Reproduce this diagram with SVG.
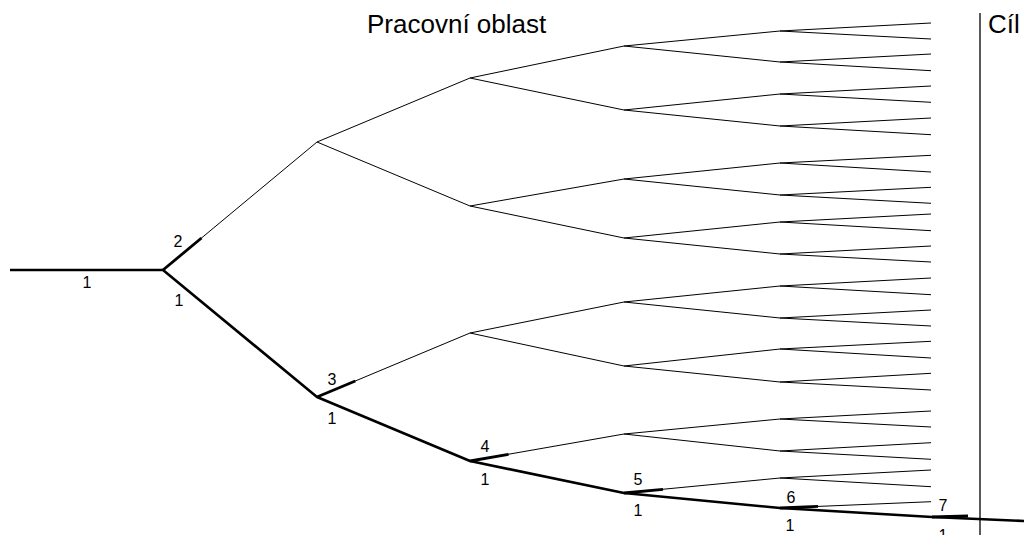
<svg xmlns="http://www.w3.org/2000/svg" width="1024" height="535" viewBox="0 0 1024 535">
<style>
.thin{fill:none;stroke:#000;stroke-width:1}
.thick{fill:none;stroke:#000;stroke-width:2.6;stroke-linejoin:round}
.stub{fill:none;stroke:#000;stroke-width:2.8;stroke-linecap:butt}
.lbl{font-family:"Liberation Sans",Arial,sans-serif;font-size:16px;fill:#000;text-anchor:middle}
.ttl{font-family:"Liberation Sans",Arial,sans-serif;font-size:26px;fill:#000}
</style>
<rect width="1024" height="535" fill="#fff"/>
<g id="connectors">
<!-- upper subtree from root node -->
<path class="thin" d="M163,270 L317,142"/>
<path class="thin" d="M317,142 L470,78 M317,142 L470,206"/>
<path class="thin" d="M470,78 L624,46 M470,78 L624,110 M470,206 L624,179 M470,206 L624,238"/>
<path class="thin" d="M624,46 L780,31 M624,46 L780,62 M624,110 L780,94 M624,110 L780,126 M624,179 L780,163 M624,179 L780,195 M624,238 L780,222 M624,238 L780,254"/>
<path class="thin" d="M780,31 L931,23 M780,31 L931,39 M780,62 L931,54 M780,62 L931,70.7 M780,94 L931,86 M780,94 L931,102.3 M780,126 L931,118 M780,126 L931,134.7 M780,163 L931,155.3 M780,163 L931,172 M780,195 L931,187.3 M780,195 L931,203.3 M780,222 L931,214 M780,222 L931,230.7 M780,254 L931,246 M780,254 L931,262"/>
<!-- subtree from node at 317,397 -->
<path class="thin" d="M317,397 L470,333"/>
<path class="thin" d="M470,333 L624,302 M470,333 L624,366"/>
<path class="thin" d="M624,302 L780,286 M624,302 L780,318 M624,366 L780,349 M624,366 L780,382"/>
<path class="thin" d="M780,286 L931,278 M780,286 L931,294.7 M780,318 L931,310 M780,318 L931,326 M780,349 L931,341.3 M780,349 L931,358 M780,382 L931,373.3 M780,382 L931,390"/>
<!-- subtree from node at 470,461 -->
<path class="thin" d="M470,461 L624,434"/>
<path class="thin" d="M624,434 L780,419 M624,434 L780,451"/>
<path class="thin" d="M780,419 L931,411 M780,419 L931,427 M780,451 L931,442.7 M780,451 L931,459.3"/>
<!-- subtree from node at 624,493 -->
<path class="thin" d="M624,493 L780,478"/>
<path class="thin" d="M780,478 L931,470 M780,478 L931,486.7"/>
<!-- branch from node at 780,508 -->
<path class="thin" d="M780,508 L931,501.7"/>
<!-- thick stubs -->
<path class="stub" d="M163,270 L201.5,238"/>
<path class="stub" d="M317,397 L355.3,381"/>
<path class="stub" d="M470,461 L508.5,454.3"/>
<path class="stub" d="M624,493 L663,489.3"/>
<path class="stub" d="M780,508 L818,506.4"/>
<path class="stub" d="M932,517 L968,516"/>
<!-- main path -->
<path class="thick" d="M10,270 L163,270 L317,397 L470,461 L624,493 L780,508 L932,517 L1024,521"/>
<!-- goal line -->
<path class="thin" d="M980,13 L980,535" style="stroke-width:1.3"/>
</g>
<g id="labels">
<text class="lbl" x="87" y="288">1</text>
<text class="lbl" x="178" y="247">2</text>
<text class="lbl" x="179" y="306">1</text>
<text class="lbl" x="332" y="385">3</text>
<text class="lbl" x="332" y="424">1</text>
<text class="lbl" x="485" y="452">4</text>
<text class="lbl" x="485" y="485">1</text>
<text class="lbl" x="638" y="485">5</text>
<text class="lbl" x="638" y="516">1</text>
<text class="lbl" x="791" y="503">6</text>
<text class="lbl" x="790" y="531">1</text>
<text class="lbl" x="943" y="511">7</text>
<text class="lbl" x="943" y="541">1</text>
</g>
<g id="title-work"><text class="ttl" x="367" y="33">Pracovní oblast</text></g>
<g id="title-goal"><text class="ttl" x="988" y="33">Cíl</text></g>
</svg>
